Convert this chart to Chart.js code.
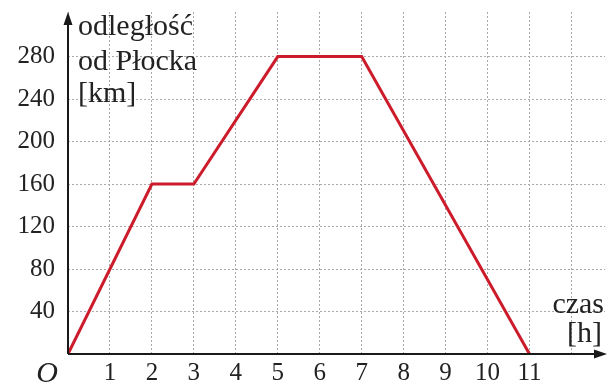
<!DOCTYPE html>
<html>
<head>
<meta charset="utf-8">
<script src="https://cdn.jsdelivr.net/npm/chart.js@4"></script>
<style>
  body { margin: 0; background: #fff; }
  #wrap { width: 609px; height: 387px; }
  .preload { position: absolute; left: -1000px; top: 0; font-family: 'Liberation Serif'; }
</style>
</head>
<body>
<span class="preload">odległość 0123 <i>O</i></span>
<div id="wrap"><canvas id="chart"></canvas></div>
<script>
// data
const hours = [0, 2, 3, 5, 7, 11];
const distance = [0, 160, 160, 280, 280, 0];
const xTicks = [0, 1, 2, 3, 4, 5, 6, 7, 8, 9, 10, 11, 12];
const xTickLabels = ["", "1", "2", "3", "4", "5", "6", "7", "8", "9", "10", "11", ""];
const yTicks = [0, 40, 80, 120, 160, 200, 240, 280];
const yTickLabels = ["", "40", "80", "120", "160", "200", "240", "280"];

const serif = "'Liberation Serif', serif";
const gridColor = "#a8a8a8";

// axes with arrows + axis titles
const axesPlugin = {
  id: "axes",
  afterDraw(chart) {
    const ctx = chart.ctx;
    const { left, right, top, bottom } = chart.chartArea;
    ctx.save();
    ctx.strokeStyle = "#1a1a1a";
    ctx.fillStyle = "#1a1a1a";
    ctx.lineWidth = 2;
    // y axis
    ctx.beginPath();
    ctx.moveTo(left, bottom);
    ctx.lineTo(left, top + 8);
    ctx.stroke();
    ctx.beginPath();
    ctx.moveTo(left, top);
    ctx.lineTo(left - 4.5, top + 13);
    ctx.lineTo(left + 4.5, top + 13);
    ctx.closePath();
    ctx.fill();
    // x axis
    ctx.beginPath();
    ctx.moveTo(left, bottom);
    ctx.lineTo(right - 6, bottom);
    ctx.stroke();
    ctx.beginPath();
    ctx.moveTo(right + 2, bottom);
    ctx.lineTo(right - 11, bottom - 4.5);
    ctx.lineTo(right - 11, bottom + 4.5);
    ctx.closePath();
    ctx.fill();

    ctx.fillStyle = "#222";
    ctx.font = "30px " + serif;
    ctx.textAlign = "left";
    ctx.textBaseline = "alphabetic";
    ctx.fillText("odległość", left + 10, 35);
    ctx.fillText("od Płocka", left + 10, 70);
    ctx.fillText("[km]", left + 10, 102);
    ctx.textAlign = "right";
    ctx.fillText("czas", 604, 313);
    ctx.fillText("[h]", 602, 342);

    ctx.font = "italic 30px " + serif;
    ctx.textAlign = "center";
    ctx.textBaseline = "middle";
    ctx.fillText("O", 47, 374);
    ctx.restore();
  }
};

function draw() {
  new Chart(document.getElementById("chart"), {
    type: "line",
    data: {
      datasets: [{
        data: hours.map((h, i) => ({ x: h, y: distance[i] })),
        borderColor: "#cc1c2c",
        borderWidth: 3,
        pointRadius: 0,
        tension: 0,
        fill: false
      }]
    },
    options: {
      responsive: true,
      maintainAspectRatio: false,
      animation: false,
      layout: { padding: { left: 0, right: 4, top: 12, bottom: 0 } },
      plugins: { legend: { display: false }, tooltip: { enabled: false } },
      scales: {
        x: {
          type: "linear",
          min: 0,
          max: 12.8,
          afterBuildTicks: s => { s.ticks = xTicks.map(v => ({ value: v })); },
          afterFit: s => { s.height = 33; s.paddingLeft = 0; s.paddingRight = 0; },
          ticks: {
            autoSkip: false,
            maxRotation: 0,
            padding: 4,
            color: "#222",
            font: { family: serif, size: 25 },
            callback: (v, i) => xTickLabels[i]
          },
          grid: { color: gridColor, lineWidth: 1, drawTicks: false },
          border: { display: false, dash: [2, 2] }
        },
        y: {
          min: 0,
          max: 322,
          afterBuildTicks: s => { s.ticks = yTicks.map(v => ({ value: v })); },
          afterFit: s => { s.width = 68; s.paddingTop = 0; s.paddingBottom = 0; },
          ticks: {
            padding: 13,
            color: "#222",
            font: { family: serif, size: 25 },
            callback: (v, i) => yTickLabels[i]
          },
          grid: { color: gridColor, lineWidth: 1, drawTicks: false },
          border: { display: false, dash: [2, 2] }
        }
      }
    },
    plugins: [axesPlugin]
  });
}

Promise.all([
  document.fonts.load("25px 'Liberation Serif'"),
  document.fonts.load("italic 30px 'Liberation Serif'")
]).then(draw, draw);
</script>
</body>
</html>
